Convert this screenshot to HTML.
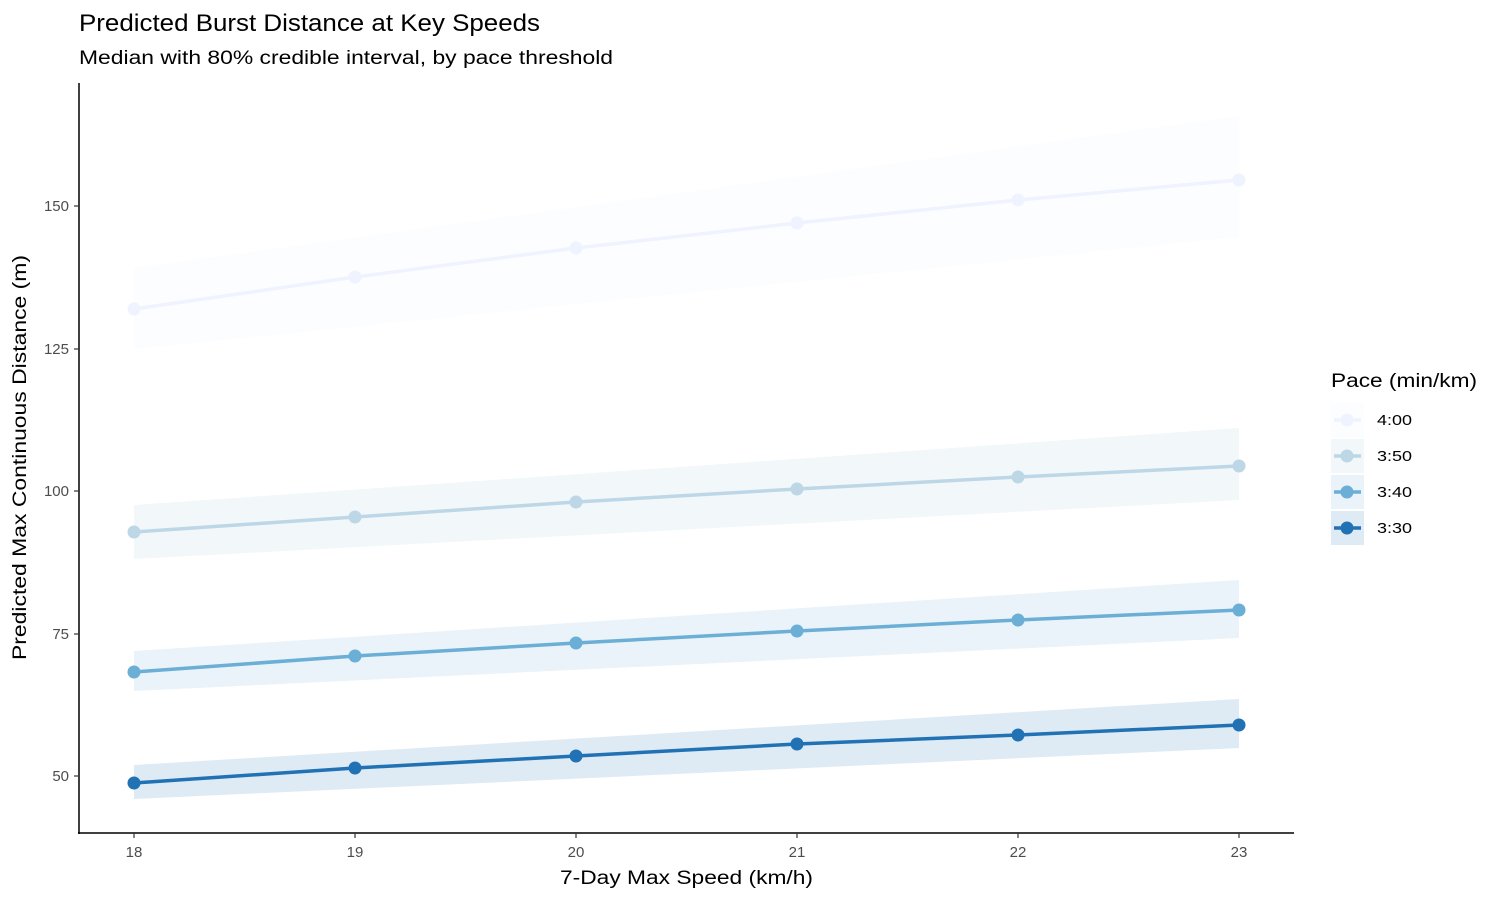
<!DOCTYPE html>
<html><head><meta charset="utf-8"><style>
body{margin:0;background:#fff;}
svg text{font-family:"Liberation Sans",sans-serif;}
</style></head><body>
<svg width="1500" height="900" xmlns="http://www.w3.org/2000/svg">
<rect width="1500" height="900" fill="#fff"/>
<text x="79" y="31" font-size="24" fill="#000" textLength="461" lengthAdjust="spacingAndGlyphs">Predicted Burst Distance at Key Speeds</text>
<text x="79" y="64" font-size="19" fill="#000" textLength="534" lengthAdjust="spacingAndGlyphs">Median with 80% credible interval, by pace threshold</text>
<!-- bands -->
<polygon points="134,268 1239,116 1239,237 134,349" fill="#eff3ff" fill-opacity="0.2"/>
<polygon points="134,505 1239,428 1239,500 134,559" fill="#bdd7e7" fill-opacity="0.2"/>
<polygon points="134,651 1239,580 1239,638 134,691" fill="#6baed6" fill-opacity="0.15"/>
<polygon points="134,765 1239,699 1239,748 134,799" fill="#2171b5" fill-opacity="0.15"/>
<!-- lines -->
<g fill="none" stroke-width="3.5">
<polyline stroke="#eff3ff" points="134,309 355,277 576,248 797,223 1018,200 1239,180"/>
<polyline stroke="#bdd7e7" points="134,532 355,517 576,502 797,489 1018,477 1239,466"/>
<polyline stroke="#6baed6" points="134,672 355,656 576,643 797,631 1018,620 1239,610"/>
<polyline stroke="#2171b5" points="134,783 355,768 576,756 797,744 1018,735 1239,725"/>
</g>
<g fill="#eff3ff"><circle cx="134" cy="309" r="6.5"/><circle cx="355" cy="277" r="6.5"/><circle cx="576" cy="248" r="6.5"/><circle cx="797" cy="223" r="6.5"/><circle cx="1018" cy="200" r="6.5"/><circle cx="1239" cy="180" r="6.5"/></g>
<g fill="#bdd7e7"><circle cx="134" cy="532" r="6.5"/><circle cx="355" cy="517" r="6.5"/><circle cx="576" cy="502" r="6.5"/><circle cx="797" cy="489" r="6.5"/><circle cx="1018" cy="477" r="6.5"/><circle cx="1239" cy="466" r="6.5"/></g>
<g fill="#6baed6"><circle cx="134" cy="672" r="6.5"/><circle cx="355" cy="656" r="6.5"/><circle cx="576" cy="643" r="6.5"/><circle cx="797" cy="631" r="6.5"/><circle cx="1018" cy="620" r="6.5"/><circle cx="1239" cy="610" r="6.5"/></g>
<g fill="#2171b5"><circle cx="134" cy="783" r="6.5"/><circle cx="355" cy="768" r="6.5"/><circle cx="576" cy="756" r="6.5"/><circle cx="797" cy="744" r="6.5"/><circle cx="1018" cy="735" r="6.5"/><circle cx="1239" cy="725" r="6.5"/></g>
<!-- axes -->
<line x1="79" y1="83" x2="79" y2="834" stroke="#000" stroke-width="1.5"/>
<line x1="78" y1="833" x2="1294" y2="833" stroke="#000" stroke-width="1.5"/>
<g stroke="#333" stroke-width="1.2">
<line x1="74" y1="206" x2="79" y2="206"/><line x1="74" y1="349" x2="79" y2="349"/><line x1="74" y1="491" x2="79" y2="491"/><line x1="74" y1="634" x2="79" y2="634"/><line x1="74" y1="776" x2="79" y2="776"/>
<line x1="134" y1="833" x2="134" y2="838"/><line x1="355" y1="833" x2="355" y2="838"/><line x1="576" y1="833" x2="576" y2="838"/><line x1="797" y1="833" x2="797" y2="838"/><line x1="1018" y1="833" x2="1018" y2="838"/><line x1="1239" y1="833" x2="1239" y2="838"/>
</g>
<g font-size="15" fill="#4d4d4d" text-anchor="end">
<text x="69" y="211">150</text><text x="69" y="354">125</text><text x="69" y="496">100</text><text x="69" y="639">75</text><text x="69" y="781">50</text>
</g>
<g font-size="15" fill="#4d4d4d" text-anchor="middle">
<text x="134" y="857">18</text><text x="355" y="857">19</text><text x="576" y="857">20</text><text x="797" y="857">21</text><text x="1018" y="857">22</text><text x="1239" y="857">23</text>
</g>
<text x="560" y="884" font-size="19" textLength="253" lengthAdjust="spacingAndGlyphs">7-Day Max Speed (km/h)</text>
<text transform="translate(26,660) rotate(-90)" font-size="19" textLength="405" lengthAdjust="spacingAndGlyphs">Predicted Max Continuous Distance (m)</text>
<!-- legend -->
<text x="1331" y="387" font-size="19" textLength="146" lengthAdjust="spacingAndGlyphs">Pace (min/km)</text>
<rect x="1331" y="403" width="33" height="34" fill="#eff3ff" fill-opacity="0.2"/>
<rect x="1331" y="439" width="33" height="34" fill="#bdd7e7" fill-opacity="0.2"/>
<rect x="1331" y="475" width="33" height="34" fill="#6baed6" fill-opacity="0.15"/>
<rect x="1331" y="511" width="33" height="34" fill="#2171b5" fill-opacity="0.15"/>
<line x1="1334" y1="420" x2="1361" y2="420" stroke="#eff3ff" stroke-width="3.5"/><circle cx="1347" cy="420" r="6.5" fill="#eff3ff"/>
<line x1="1334" y1="456" x2="1361" y2="456" stroke="#bdd7e7" stroke-width="3.5"/><circle cx="1347" cy="456" r="6.5" fill="#bdd7e7"/>
<line x1="1334" y1="492" x2="1361" y2="492" stroke="#6baed6" stroke-width="3.5"/><circle cx="1347" cy="492" r="6.5" fill="#6baed6"/>
<line x1="1334" y1="528" x2="1361" y2="528" stroke="#2171b5" stroke-width="3.5"/><circle cx="1347" cy="528" r="6.5" fill="#2171b5"/>
<g font-size="15" fill="#000">
<text x="1377" y="425" textLength="35" lengthAdjust="spacingAndGlyphs">4:00</text><text x="1377" y="461" textLength="35" lengthAdjust="spacingAndGlyphs">3:50</text><text x="1377" y="497" textLength="35" lengthAdjust="spacingAndGlyphs">3:40</text><text x="1377" y="533" textLength="35" lengthAdjust="spacingAndGlyphs">3:30</text>
</g>
</svg>
</body></html>
